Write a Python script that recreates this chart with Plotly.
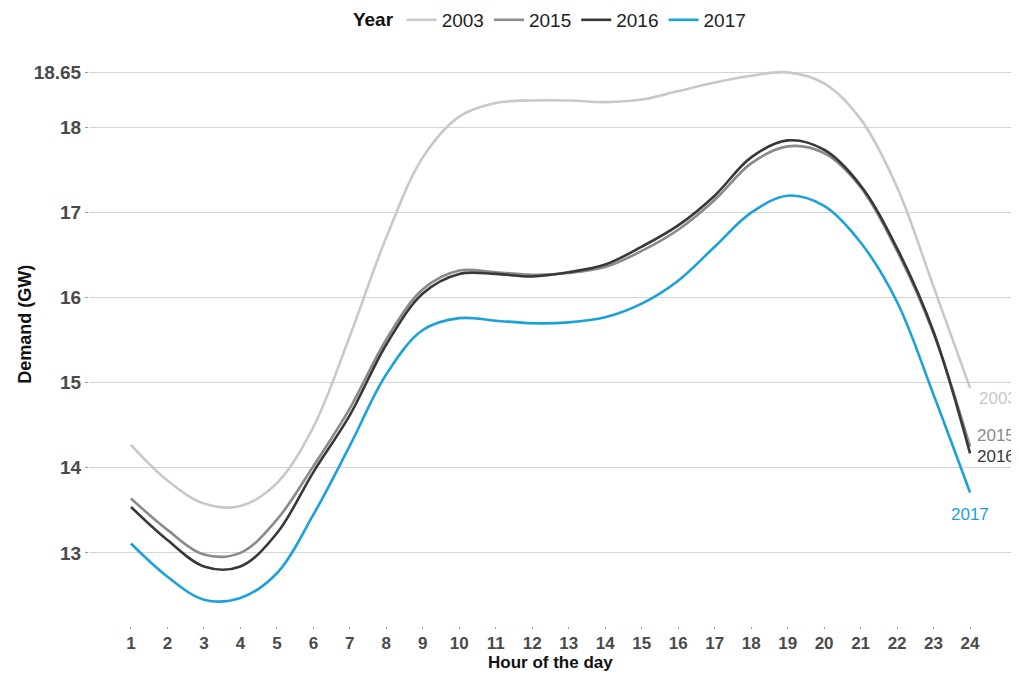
import plotly.graph_objects as go

hours = list(range(1, 25))

demand_2003 = [14.27, 13.85, 13.58, 13.55, 13.82, 14.48, 15.55, 16.71, 17.65, 18.13, 18.29, 18.32,
               18.32, 18.30, 18.33, 18.43, 18.53, 18.61, 18.65, 18.52, 18.10, 17.30, 16.13, 14.94]
demand_2015 = [13.64, 13.27, 12.98, 13.00, 13.39, 14.02, 14.70, 15.51, 16.10, 16.32, 16.30, 16.27,
               16.29, 16.36, 16.55, 16.80, 17.15, 17.58, 17.78, 17.70, 17.30, 16.55, 15.58, 14.25]
demand_2016 = [13.54, 13.15, 12.84, 12.84, 13.23, 13.95, 14.62, 15.45, 16.05, 16.28, 16.28, 16.25,
               16.30, 16.39, 16.60, 16.85, 17.20, 17.65, 17.85, 17.74, 17.32, 16.58, 15.60, 14.17]
demand_2017 = [13.11, 12.72, 12.45, 12.47, 12.76, 13.45, 14.26, 15.10, 15.62, 15.76, 15.73, 15.70,
               15.71, 15.77, 15.93, 16.20, 16.60, 17.00, 17.20, 17.08, 16.65, 15.95, 14.86, 13.71]

years = ["2003", "2015", "2016", "2017"]
series = [demand_2003, demand_2015, demand_2016, demand_2017]
colors = ["#c8c8c8", "#8a8a8a", "#383838", "#1ba1db"]

y_tickvals = [13, 14, 15, 16, 17, 18, 18.65]
y_ticktext = ["13", "14", "15", "16", "17", "18", "18.65"]

FONT = "Liberation Sans, Arial, sans-serif"

fig = go.Figure()
for name, vals, col in zip(years, series, colors):
    fig.add_trace(go.Scatter(
        x=hours, y=vals, mode="lines", name=name,
        line=dict(color=col, width=2.6, shape="spline", smoothing=1.0),
    ))

# end labels (direct labels)
label_offsets = {"2003": (7, -11, "left"), "2015": (5, 11, "left"), "2016": (5, -3, "left"),
                 "2017": (0, -22, "center")}
for name, vals, col in zip(years, series, colors):
    dx, dy, anchor = label_offsets[name]
    fig.add_annotation(x=hours[-1], y=vals[-1], text=name, showarrow=False,
                       xanchor=anchor, yanchor="middle", xshift=dx, yshift=dy,
                       font=dict(family=FONT, size=17, color=col))

fig.add_annotation(x=0.5, xref="paper", y=-0.0635, yref="paper", text="<b>Hour of the day</b>",
                   showarrow=False, xanchor="center", yanchor="middle",
                   font=dict(family=FONT, size=17, color="#111111"))
fig.add_annotation(x=-0.069, xref="paper", y=0.52, yref="paper", text="<b>Demand (GW)</b>",
                   showarrow=False, xanchor="center", yanchor="middle", textangle=-90,
                   font=dict(family=FONT, size=18, color="#111111"))

# page body adds an 8px offset, so the figure is 8px smaller and margins shifted
fig.update_layout(
    width=1011, height=665,
    margin=dict(l=81, r=7, t=38, b=47, autoexpand=False),
    paper_bgcolor="white", plot_bgcolor="white",
    font=dict(family=FONT),
    showlegend=True,
    legend=dict(orientation="h", x=0.537, xanchor="center", xref="container",
                y=0.982, yanchor="middle", yref="container",
                title=dict(text="<b>Year</b>", font=dict(family=FONT, size=19, color="#111111")),
                font=dict(family=FONT, size=19, color="#222222"),
                itemwidth=30, tracegroupgap=0),
    xaxis=dict(range=[-0.15, 25.15], tickmode="array", tickvals=hours,
               ticktext=[f"<b>{h}</b>" for h in hours], automargin=False,
               showgrid=False, zeroline=False, showline=False,
               ticks="outside", ticklen=2, tickcolor="#9a9a9a", tickwidth=1,
               tickfont=dict(family=FONT, size=17, color="#4a4a4a")),
    yaxis=dict(range=[12.14, 18.96], tickmode="array", tickvals=y_tickvals,
               ticktext=[f"<b>{t}</b>" for t in y_ticktext], automargin=False,
               showgrid=True, gridcolor="#d4d4d4", gridwidth=1.4, zeroline=False, showline=False,
               ticks="outside", ticklen=3, tickcolor="#9a9a9a", tickwidth=1,
               tickfont=dict(family=FONT, size=19, color="#4a4a4a")),
)

fig.write_html("out.html")
